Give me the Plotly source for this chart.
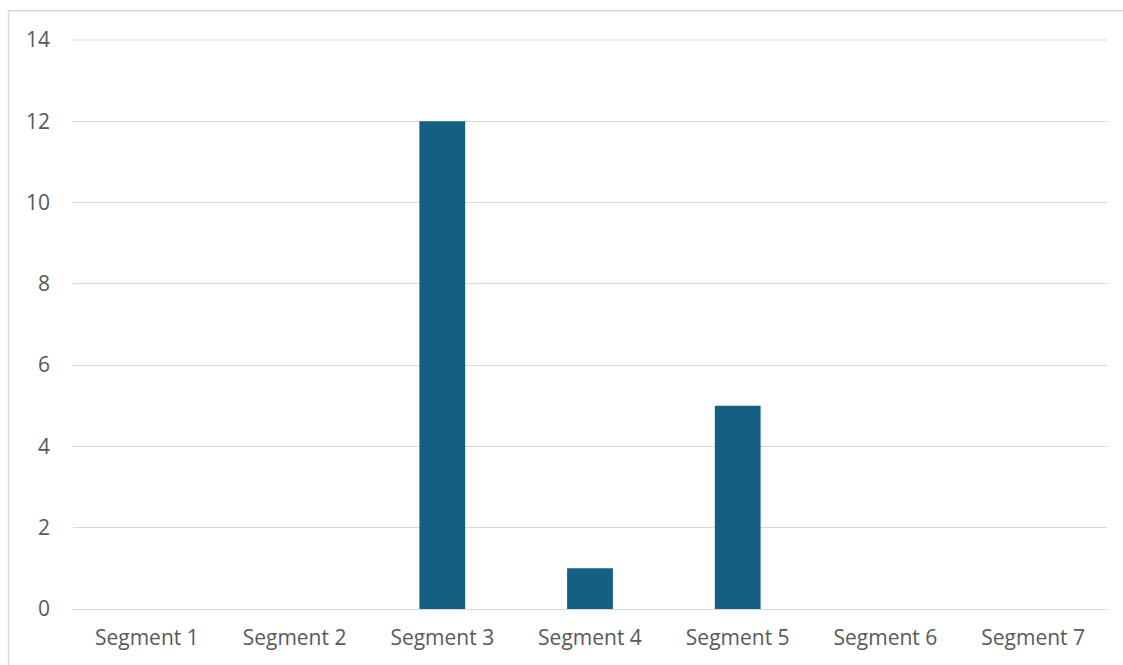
import plotly.graph_objects as go

categories = ["Segment 1", "Segment 2", "Segment 3", "Segment 4", "Segment 5", "Segment 6", "Segment 7"]
values = [0, 0, 12, 1, 5, 0, 0]
y_ticks = [0, 2, 4, 6, 8, 10, 12, 14]

bar_color = "#156082"
grid_color = "#D9D9D9"
text_color = "#595959"

fig = go.Figure(go.Bar(x=categories, y=values, marker=dict(color=bar_color, line=dict(width=0))))

fig.update_layout(
    width=1123,
    height=665,
    margin=dict(l=73, r=16, t=40, b=56),
    paper_bgcolor="white",
    plot_bgcolor="white",
    bargap=0.69,
    showlegend=False,
    font=dict(family="Open Sans", size=21, color=text_color),
    shapes=[
        # outer chart frame
        dict(type="rect", xref="paper", yref="paper",
             x0=-0.0624, x1=1.1, y0=-0.2, y1=1.0515,
             line=dict(color=grid_color, width=1.5), layer="below"),
        # gridline along the top of the plot area (value axis maximum)
        dict(type="line", xref="paper", yref="paper",
             x0=0, x1=1, y0=1, y1=1,
             line=dict(color=grid_color, width=1.2), layer="below"),
    ],
)
fig.update_xaxes(showgrid=False, showline=False, ticks="", ticklabelstandoff=14,
                 tickfont=dict(size=21, color=text_color))
fig.update_yaxes(range=[0, y_ticks[-1]], tickvals=y_ticks, showgrid=True, gridcolor=grid_color,
                 gridwidth=1.2, zeroline=True, zerolinecolor=grid_color, zerolinewidth=1.2,
                 showline=False, ticks="", ticklabelstandoff=22,
                 tickfont=dict(size=21, color=text_color))

fig.write_html("out.html")
